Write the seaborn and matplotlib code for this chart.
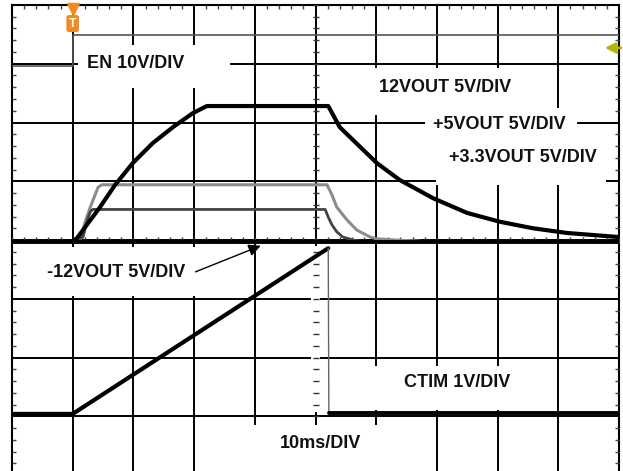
import matplotlib
matplotlib.use("Agg")
import matplotlib.pyplot as plt
from matplotlib.patches import Rectangle
import numpy as np
import seaborn as sns

# scope screen in divisions: 10 div wide (10 ms/div), 8 div high
# ground / -12VOUT trace
gnd_t = [0.0, 10.0]
gnd_v = [3.97, 3.97]

# EN (10V/div)
en_t = [0.0, 1.0, 1.0, 10.0]
en_v = [6.96, 6.96, 7.49, 7.49]

# 12VOUT (5V/div)
v12_t = [1.00, 1.07, 1.45, 1.70, 1.99, 2.32, 2.65, 2.98, 3.21, 5.21,
         5.40, 5.62, 6.01, 6.39, 6.94, 7.50, 8.04, 8.58, 9.14, 10.0]
v12_v = [3.98, 4.03, 4.56, 4.94, 5.31, 5.65, 5.92, 6.16, 6.28, 6.28,
         5.92, 5.70, 5.31, 5.02, 4.71, 4.46, 4.31, 4.20, 4.12, 4.05]

# +5VOUT (5V/div)
v5_t = [1.04, 1.12, 1.20, 1.29, 1.37, 1.42, 1.48, 5.19,
        5.27, 5.35, 5.52, 5.68, 5.90, 6.01, 6.31, 6.72]
v5_v = [3.98, 3.99, 4.29, 4.56, 4.77, 4.90, 4.94, 4.94,
        4.77, 4.56, 4.34, 4.17, 4.05, 4.02, 4.00, 3.98]

# +3.3VOUT (5V/div)
v33_t = [1.04, 1.17, 1.24, 1.29, 1.33, 5.16, 5.21, 5.27, 5.35, 5.45, 5.62, 5.85]
v33_v = [3.98, 4.05, 4.34, 4.48, 4.52, 4.52, 4.39, 4.26, 4.14, 4.05, 4.00, 3.96]

# CTIM (1V/div): ramp, discharge edge, low level
ctim_t = [0.0, 1.00, 5.21]
ctim_v = [1.04, 1.04, 3.86]
ctim_drop_t = [5.21, 5.22]
ctim_drop_v = [3.86, 1.05]
ctim_low_t = [5.22, 10.0]
ctim_low_v = [1.05, 1.05]

sns.set_style("white")
plt.rcParams["font.family"] = ["Liberation Sans", "DejaVu Sans"]

fig = plt.figure(figsize=(6.23, 4.71), dpi=100)
ax = fig.add_axes([12 / 623, 1 - 475 / 471, 607 / 623, 470 / 471])
ax.set_xlim(0, 10)
ax.set_ylim(0, 8)

# graticule
for gx in range(1, 10):
    ax.axvline(gx, color="black", lw=1.4, zorder=1)
for gy in range(1, 8):
    ax.axhline(gy, color="black", lw=1.4, zorder=1)

# white knock-outs behind the labels (x0, y0, x1, y1)
boxes = [
    (1.09, 6.59, 3.59, 7.32),
    (5.82, 6.13, 8.86, 6.93),
    (6.80, 5.67, 9.31, 6.25),
    (6.99, 4.94, 9.79, 5.70),
    (0.43, 3.05, 3.76, 3.88),
    (5.40, 1.11, 8.78, 1.86),
    (3.84, 0.00, 6.39, 0.85),
    (4.92, 1.07, 5.08, 3.90),
]
for x0, y0, x1, y1 in boxes:
    ax.add_patch(Rectangle((x0, y0), x1 - x0, y1 - y0, facecolor="white",
                           edgecolor="none", zorder=2))

# small ticks along the centre lines
cy = np.arange(0, 8.01, 0.2)
cx = np.arange(0, 10.01, 0.2)
cy_mark = cy[cy > 0.9]
ax.plot(np.full_like(cy_mark, 5.0), cy_mark, ls="none", marker="_", ms=5,
        mew=1, color="#333333", zorder=2.6)
ax.plot(cx, np.full_like(cx, 4.0), ls="none", marker="|", ms=5, mew=1,
        color="#333333", zorder=2.6)

# traces
kw = dict(ax=ax, sort=False, estimator=None, legend=False)
sns.lineplot(x=en_t, y=en_v, color="#555555", lw=1.2, zorder=3, **kw)
sns.lineplot(x=v5_t, y=v5_v, color="#8c8c8c", lw=2.2, zorder=3, **kw)
sns.lineplot(x=v33_t, y=v33_v, color="#444444", lw=2.0, zorder=3.1, **kw)
sns.lineplot(x=gnd_t, y=gnd_v, color="black", lw=2.8, zorder=3.2, **kw)
sns.lineplot(x=v12_t, y=v12_v, color="black", lw=3.0, zorder=3.3, **kw)
sns.lineplot(x=ctim_t, y=ctim_v, color="black", lw=3.0, zorder=3.3, **kw)
sns.lineplot(x=ctim_drop_t, y=ctim_drop_v, color="#666666", lw=1.0, zorder=3.3, **kw)
sns.lineplot(x=ctim_low_t, y=ctim_low_v, color="black", lw=2.8, zorder=3.3, **kw)

# labels
tkw = dict(ha="center", va="center", fontsize=13, fontweight="bold",
           color="#111111", zorder=6)
ax.text(2.04, 7.01, "EN 10V/DIV", **tkw)
ax.text(7.13, 6.60, "12VOUT 5V/DIV", **tkw)
ax.text(8.03, 5.97, "+5VOUT 5V/DIV", **tkw)
ax.text(8.42, 5.41, "+3.3VOUT 5V/DIV", **tkw)
ax.text(1.71, 3.45, "-12VOUT 5V/DIV", **tkw)
ax.text(7.34, 1.58, "CTIM 1V/DIV", **tkw)
ax.text(5.09, 0.54, "10ms/DIV", **tkw)

ax.annotate("", xy=(4.14, 3.92), xytext=(2.98, 3.44),
            arrowprops=dict(arrowstyle="-|>", color="black", lw=1.0,
                            mutation_scale=18), zorder=6)

# trigger marker (orange) and level marker (yellow)
ax.plot([1.0], [7.93], ls="none", marker="v", ms=8, color="#f08a24",
        zorder=7, clip_on=False)
ax.text(1.0, 7.685, "T", ha="center", va="center", fontsize=9,
        fontweight="bold", color="white", zorder=7,
        bbox=dict(boxstyle="round,pad=0.2", fc="#f08a24", ec="none"))
ax.annotate("", xy=(9.72, 7.27), xytext=(10.08, 7.27),
            arrowprops=dict(arrowstyle="-|>", color="#b8b400", lw=2.0,
                            mutation_scale=15), annotation_clip=False,
            zorder=7)

# borders and minor ticks
ax.set_xticks(range(0, 11))
ax.set_yticks(range(0, 9))
ax.set_xticks(cx, minor=True)
ax.set_yticks(cy, minor=True)
ax.tick_params(which="major", length=0, labelbottom=False, labelleft=False)
ax.tick_params(which="minor", direction="in", length=3, width=1,
               color="#444444", top=True, right=True, bottom=True, left=True)
ax.set_axisbelow(False)
for s in ax.spines.values():
    s.set_visible(True)
    s.set_color("black")
    s.set_linewidth(1.5)

fig.savefig("out.png", dpi=100, facecolor="white")
